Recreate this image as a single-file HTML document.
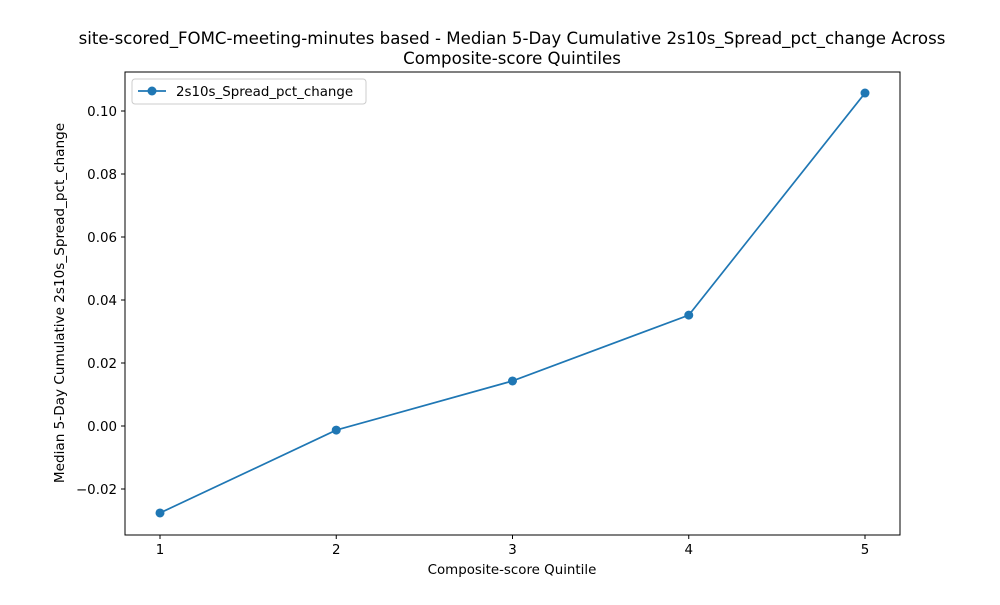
<!DOCTYPE html>
<html><head><meta charset="utf-8"><style>
body{margin:0;background:#fff;font-family:"Liberation Sans","DejaVu Sans",sans-serif;}
svg text{font-family:"DejaVu Sans","Liberation Sans",sans-serif;}
</style></head><body>
<svg id="chart" width="1000" height="600">
<rect width="1000" height="600" fill="#fff"/>
<text x="512" y="44" font-size="16.6" text-anchor="middle">site-scored_FOMC-meeting-minutes based - Median 5-Day Cumulative 2s10s_Spread_pct_change Across</text>
<text x="512" y="64" font-size="16.6" text-anchor="middle">Composite-score Quintiles</text>
<g id="axes"></g>
<text x="512" y="574" font-size="13.4" text-anchor="middle">Composite-score Quintile</text>
<text transform="translate(64,303) rotate(-90)" font-size="13.6" text-anchor="middle">Median 5-Day Cumulative 2s10s_Spread_pct_change</text>
<g>
<rect x="132" y="79" width="234" height="25" rx="3" fill="#fff" stroke="#ccc"/>
<line x1="138" y1="91" x2="166" y2="91" stroke="#1f77b4" stroke-width="1.7"/>
<circle cx="152" cy="91" r="4.5" fill="#1f77b4"/>
<text x="176" y="96" font-size="13.4">2s10s_Spread_pct_change</text>
</g>
</svg>
<script>
const categories=[1,2,3,4,5];
const values=[-0.0276,-0.0013,0.0143,0.0352,0.1057];
const yTicks=[-0.02,0,0.02,0.04,0.06,0.08,0.10];
const yTickLabels=["−0.02","0.00","0.02","0.04","0.06","0.08","0.10"];
const L=125,R=900,T=72,B=535;
const xs=c=>160+(c-1)*(865-160)/4;
const ys=v=>426-v*3150;
const g=document.getElementById('axes');
const NS='http://www.w3.org/2000/svg';
function mk(t,a){const e=document.createElementNS(NS,t);for(const k in a)e.setAttribute(k,a[k]);g.appendChild(e);return e;}
yTicks.forEach((v,i)=>{const y=ys(v);
const tk=mk('line',{x1:L-4,x2:L,y1:y,y2:y,stroke:'#000'});


const t=mk('text',{x:L-8,y:y+5,'font-size':13.4,'text-anchor':'end'});t.textContent=yTickLabels[i];

});
categories.forEach(c=>{const x=xs(c);
const tk=mk('line',{x1:x,x2:x,y1:B,y2:B+4,stroke:'#000'});


const t=mk('text',{x:x,y:B+19,'font-size':13.4,'text-anchor':'middle'});t.textContent=c;

});
const line=mk('polyline',{points:categories.map((c,i)=>xs(c)+','+ys(values[i])).join(' '),fill:'none',stroke:'#1f77b4','stroke-width':1.7});


categories.forEach((c,i)=>{const p=mk('circle',{cx:xs(c),cy:ys(values[i]),r:4.5,fill:'#1f77b4'});

});
const fr=mk('rect',{x:L,y:T,width:R-L,height:B-T,fill:'none',stroke:'#000','stroke-width':1});


</script>
</body></html>
